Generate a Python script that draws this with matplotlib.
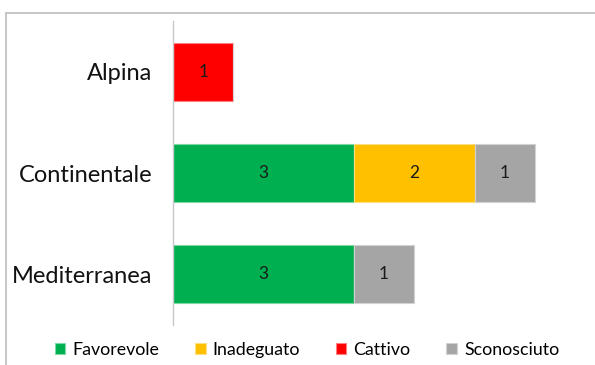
import matplotlib.pyplot as plt
from matplotlib.patches import Rectangle
import numpy as np

regioni = ['Alpina', 'Continentale', 'Mediterranea']
stati = ['Favorevole', 'Inadeguato', 'Cattivo', 'Sconosciuto']
favorevole = [0, 3, 3]
inadeguato = [0, 2, 0]
cattivo = [1, 0, 0]
sconosciuto = [0, 1, 1]

colori = ['#00B050', '#FFC000', '#FF0000', '#A5A5A5']
bordi = ['#7FD8A8', '#FFE080', '#FF8080', '#D2D2D2']

plt.rcParams['font.family'] = ['Lato', 'DejaVu Sans']

fig = plt.figure(figsize=(5.95, 3.65), dpi=100)
fig.patches.append(Rectangle((6 / 595, -0.1), 1.2, (365 - 13) / 365 + 0.1,
                             transform=fig.transFigure, fill=False,
                             edgecolor='#BDBDBD', linewidth=1.2))

ax = fig.add_axes([173 / 595, 40 / 365, 415 / 595, 304 / 365])
y = np.arange(len(regioni))
left = np.zeros(len(regioni))
for serie, nome, col, bc in zip([favorevole, inadeguato, cattivo, sconosciuto],
                                stati, colori, bordi):
    vals = np.array(serie, dtype=float)
    bars = ax.barh(y, vals, left=left, height=0.57, color=col,
                   edgecolor=bc, linewidth=0.8, label=nome)
    for b, v in zip(bars, vals):
        if v > 0:
            ax.text(b.get_x() + b.get_width() / 2, b.get_y() + b.get_height() / 2,
                    f'{v:.0f}', ha='center', va='center', fontsize=12.5, color='#1a1a1a')
    left += vals

ax.set_xlim(0, 6.88)
ax.set_ylim(2.5, -0.5)
ax.set_yticks(y)
ax.set_yticklabels(regioni, fontsize=17, color='#111111')
ax.tick_params(axis='y', length=0, pad=15)
ax.set_xticks([])
for s in ['top', 'right', 'bottom']:
    ax.spines[s].set_visible(False)
ax.spines['left'].set_color('#C8C8C8')
ax.spines['left'].set_linewidth(1.0)

fig.legend(loc='center', bbox_to_anchor=(307 / 595, 1 - 350 / 365), ncol=4,
           frameon=False, fontsize=12.8, handlelength=0.6, handleheight=0.6,
           handletextpad=0.4, columnspacing=2.0)

fig.savefig('out.png', dpi=100)
